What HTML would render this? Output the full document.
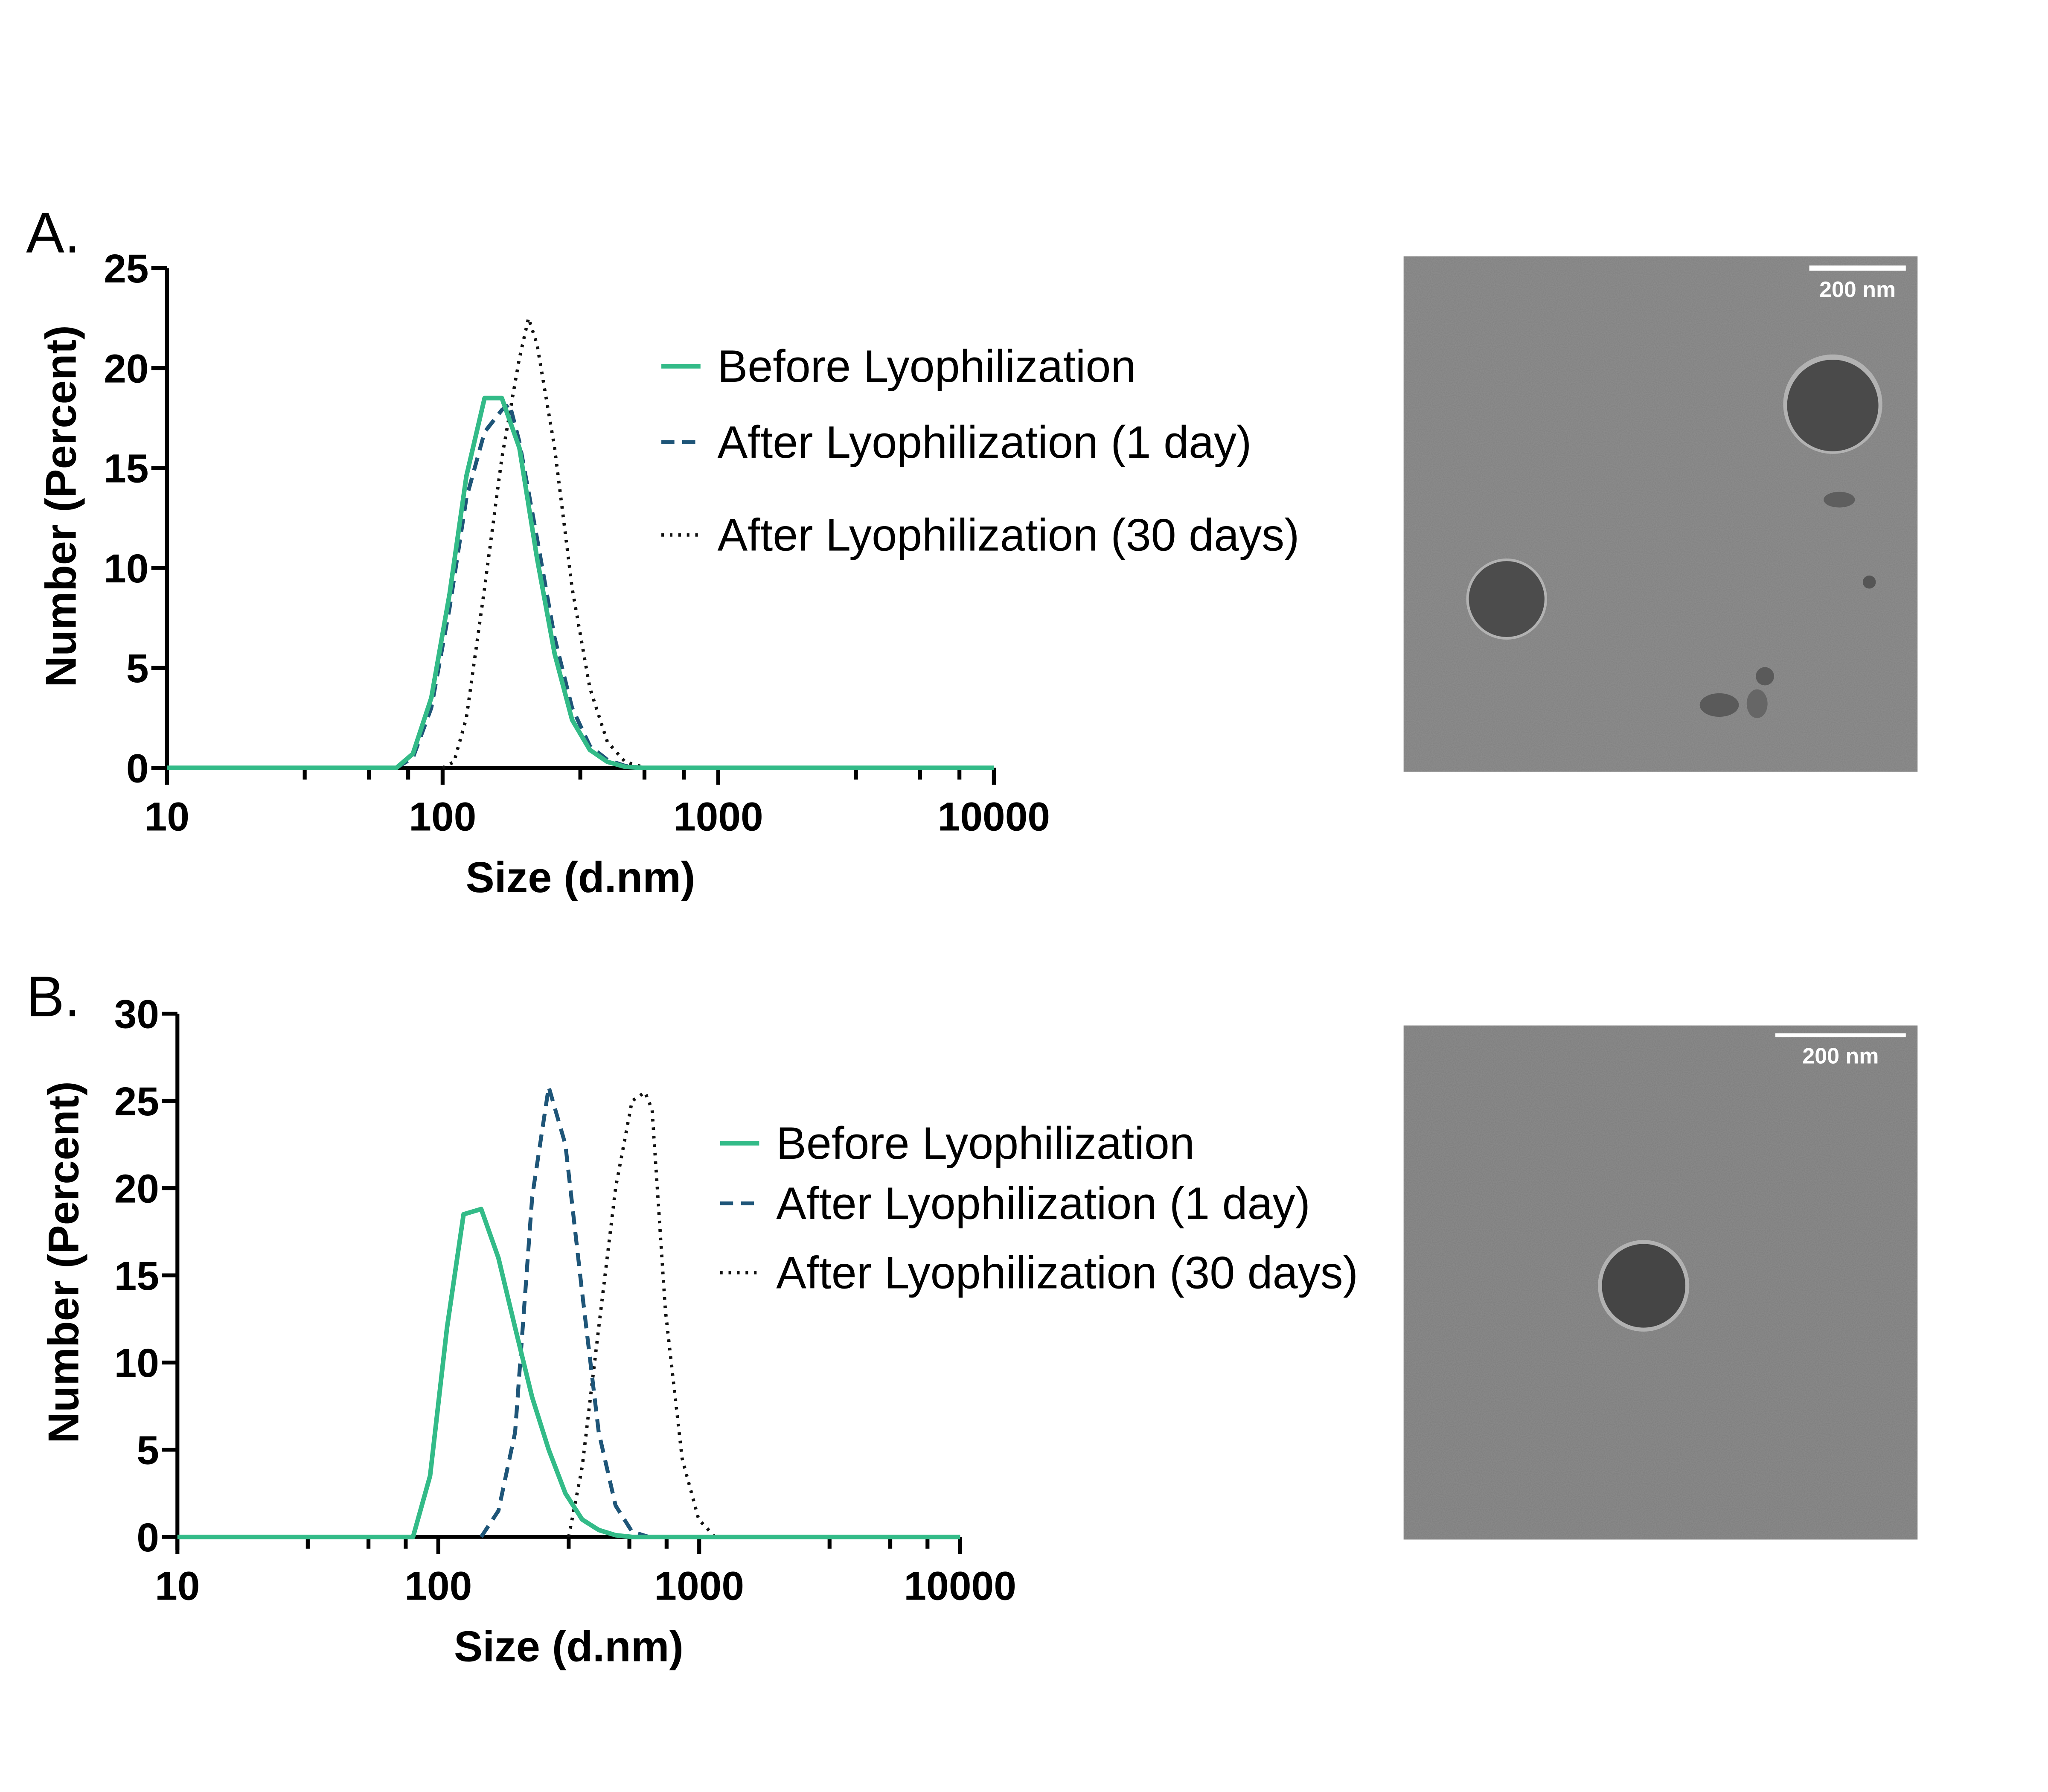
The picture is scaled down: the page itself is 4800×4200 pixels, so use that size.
<!DOCTYPE html>
<html><head><meta charset="utf-8"><style>
html,body{margin:0;padding:0;background:#fff;}
svg{display:block;}
text{font-family:"Liberation Sans",Arial,sans-serif;}
</style></head><body>
<svg id="fig" width="4800" height="4200" viewBox="0 0 1570 1370" preserveAspectRatio="none" xmlns="http://www.w3.org/2000/svg">
<defs>
<filter id="noise" x="0" y="0" width="100%" height="100%">
<feTurbulence type="fractalNoise" baseFrequency="1.2" numOctaves="1" seed="3" result="n"/>
<feColorMatrix in="n" type="matrix" values="0 0 0 0 0.5  0 0 0 0 0.5  0 0 0 0 0.5  0 0 0 0.5 0"/>
</filter>
</defs>
<text x="20" y="193" font-size="44">A.</text>
<text x="20" y="777" font-size="44">B.</text>
<g id="chartA"></g>
<g id="chartB"></g>

<g>
<rect x="1076" y="196" width="394" height="394" fill="#808080"/>
<rect x="1076" y="196" width="394" height="394" filter="url(#noise)" opacity="0.5"/>
<circle cx="1405" cy="309" r="38" fill="#bdbdbd" opacity="0.8"/>
<circle cx="1405" cy="310" r="35" fill="#4a4a4a"/>
<circle cx="1155" cy="458" r="31" fill="#bdbdbd" opacity="0.8"/>
<circle cx="1155" cy="458" r="29" fill="#4c4c4c"/>
<ellipse cx="1318" cy="539" rx="15" ry="9" fill="#5a5a5a"/>
<ellipse cx="1347" cy="538" rx="8" ry="11" fill="#666"/>
<circle cx="1353" cy="517" r="7" fill="#5a5a5a"/>
<ellipse cx="1410" cy="382" rx="12" ry="6" fill="#5e5e5e"/>
<circle cx="1433" cy="445" r="5" fill="#555"/>
<rect x="1387" y="203" width="74" height="4" fill="#fff"/>
<text x="1424" y="227" font-size="17" font-weight="bold" fill="#fff" text-anchor="middle" font-family="DejaVu Sans">200 nm</text>
</g>
<g>
<rect x="1076" y="784" width="394" height="393" fill="#7d7d7d"/>
<rect x="1076" y="784" width="394" height="393" filter="url(#noise)" opacity="0.5"/>
<circle cx="1260" cy="983" r="35" fill="#bdbdbd" opacity="0.8"/>
<circle cx="1260" cy="983" r="32" fill="#454545"/>
<rect x="1361" y="790" width="100" height="3" fill="#fff"/>
<text x="1411" y="813" font-size="17" font-weight="bold" fill="#fff" text-anchor="middle" font-family="DejaVu Sans">200 nm</text>
</g>
</svg>
<script>
// ---- Panel A data ----
const aBeforeX = [10, 68, 78, 91, 106, 122, 142, 164, 190, 220, 255, 295, 342, 396, 459, 531, 10000];
const aBeforeY = [0, 0, 0.7, 3.5, 8.7, 14.6, 18.5, 18.5, 16, 10.5, 5.7, 2.4, 0.9, 0.3, 0.05, 0, 0];
const aDay1X = [10, 68, 78, 91, 106, 122, 142, 164, 175, 190, 220, 255, 295, 342, 396, 459, 531, 10000];
const aDay1Y = [0, 0, 0.5, 3, 8, 13.5, 16.8, 17.9, 18.2, 16.3, 11.5, 6.5, 3, 1.1, 0.4, 0.1, 0, 0];
const aDay30X = [100, 110, 122, 142, 164, 190, 205, 220, 255, 295, 342, 396, 459, 531];
const aDay30Y = [0, 0.3, 2.5, 9, 15.5, 20.5, 22.5, 21.2, 16, 9, 4, 1.3, 0.3, 0.05];
const aYTicks = [0, 5, 10, 15, 20, 25];
// ---- Panel B data ----
const bBeforeX = [10, 80, 93, 108, 125, 146, 170, 197, 229, 265, 307, 356, 412, 478, 553, 10000];
const bBeforeY = [0, 0, 3.5, 12, 18.5, 18.8, 16, 12, 8, 5, 2.5, 1, 0.4, 0.1, 0, 0];
const bDay1X = [146, 170, 197, 229, 265, 307, 356, 412, 478, 553, 641];
const bDay1Y = [0, 1.5, 6, 19.5, 25.8, 22.5, 14, 6, 1.8, 0.3, 0];
const bDay30X = [316, 356, 412, 478, 553, 620, 660, 742, 860, 996, 1150];
const bDay30Y = [0, 4, 12, 20, 25, 25.5, 24.5, 13, 4.5, 1, 0];
const bYTicks = [0, 5, 10, 15, 20, 25, 30];
const xTickLabels = ["10", "100", "1000", "10000"];
const xTickVals = [10, 100, 1000, 10000];
const minorMult = [3.16, 5.4, 7.5];

const NS = "http://www.w3.org/2000/svg";
function mk(parent, tag, attrs, txt){const e=document.createElementNS(NS,tag);for(const k in attrs)e.setAttribute(k,attrs[k]);if(txt!==undefined)e.textContent=txt;parent.appendChild(e);return e;}

function drawChart(gid, cfg){
  const g=document.getElementById(gid);
  const X=v=>cfg.x0+cfg.dec*Math.log10(v/10);
  const Y=v=>cfg.y0-(cfg.y0-cfg.yTop)*v/cfg.yMax;
  const ya=mk(g,'line',{x1:cfg.x0,y1:cfg.yTop,x2:cfg.x0,y2:cfg.y0+10,stroke:'#000','stroke-width':3});
  
  
  const xa=mk(g,'line',{x1:cfg.x0,y1:cfg.y0,x2:X(10000),y2:cfg.y0,stroke:'#000','stroke-width':3});
  
  
  cfg.yTicks.forEach(t=>{
    mk(g,'line',{x1:cfg.x0-12,y1:Y(t),x2:cfg.x0,y2:Y(t),stroke:'#000','stroke-width':3});
    const tl=mk(g,'text',{x:cfg.x0-14,y:Y(t)+11,'font-size':31,'font-weight':'bold','text-anchor':'end'},String(t));
    
    
  });
  xTickVals.forEach((v,i)=>{
    mk(g,'line',{x1:X(v),y1:cfg.y0,x2:X(v),y2:cfg.y0+13,stroke:'#000','stroke-width':3});
    const tl=mk(g,'text',{x:X(v),y:cfg.y0+48,'font-size':31,'font-weight':'bold','text-anchor':'middle'},xTickLabels[i]);
    
    
    if(v<10000) minorMult.forEach(m=>mk(g,'line',{x1:X(v*m),y1:cfg.y0,x2:X(v*m),y2:cfg.y0+9,stroke:'#000','stroke-width':3}));
  });
  const xt=mk(g,'text',{x:cfg.xTitleX,y:cfg.y0+95,'font-size':33,'font-weight':'bold','text-anchor':'middle'},'Size (d.nm)');
  
  
  const yt=mk(g,'text',{x:0,y:0,'font-size':33,'font-weight':'bold','text-anchor':'middle',transform:`translate(${cfg.yTitleX},${cfg.yTitleY}) rotate(-90)`},'Number (Percent)');
  
  
  const styles=[{c:'#33bb88',d:'',w:3.5},{c:'#1e5578',d:'10 6',w:3},{c:'#111',d:'2 4.5',w:2.5}];
  const names=['before','day1','day30'];
  const labels=['Before Lyophilization','After Lyophilization (1 day)','After Lyophilization (30 days)'];
  [2,1,0].forEach(i=>{
    const xs=cfg.series[i][0], ys=cfg.series[i][1];
    const pts=xs.map((v,k)=>X(v).toFixed(2)+','+Y(ys[k]).toFixed(2)).join(' ');
    const p=mk(g,'polyline',{points:pts,fill:'none',stroke:styles[i].c,'stroke-width':styles[i].w,'stroke-dasharray':styles[i].d,'stroke-linejoin':'round'});
    
    
  });
  labels.forEach((l,i)=>{
    const ly=cfg.legY[i];
    const lg=mk(g,'g',{});
    
    
    mk(lg,'line',{x1:cfg.legX,y1:ly,x2:cfg.legX+30,y2:ly,stroke:styles[i].c,'stroke-width':styles[i].w,'stroke-dasharray':styles[i].d});
    mk(lg,'text',{x:cfg.legX+43,y:ly+12,'font-size':34.7},l);
  });
}
drawChart('chartA',{x0:128,dec:211.3,y0:587,yTop:205,yMax:25,yTicks:aYTicks,xTitleX:445,yTitleX:58,yTitleY:387,
  series:[[aBeforeX,aBeforeY],[aDay1X,aDay1Y],[aDay30X,aDay30Y]],legX:507,legY:[280,338,409]});
drawChart('chartB',{x0:136,dec:200,y0:1175,yTop:775,yMax:30,yTicks:bYTicks,xTitleX:436,yTitleX:60,yTitleY:965,
  series:[[bBeforeX,bBeforeY],[bDay1X,bDay1Y],[bDay30X,bDay30Y]],legX:552,legY:[874,920,973]});
</script>
</body></html>
